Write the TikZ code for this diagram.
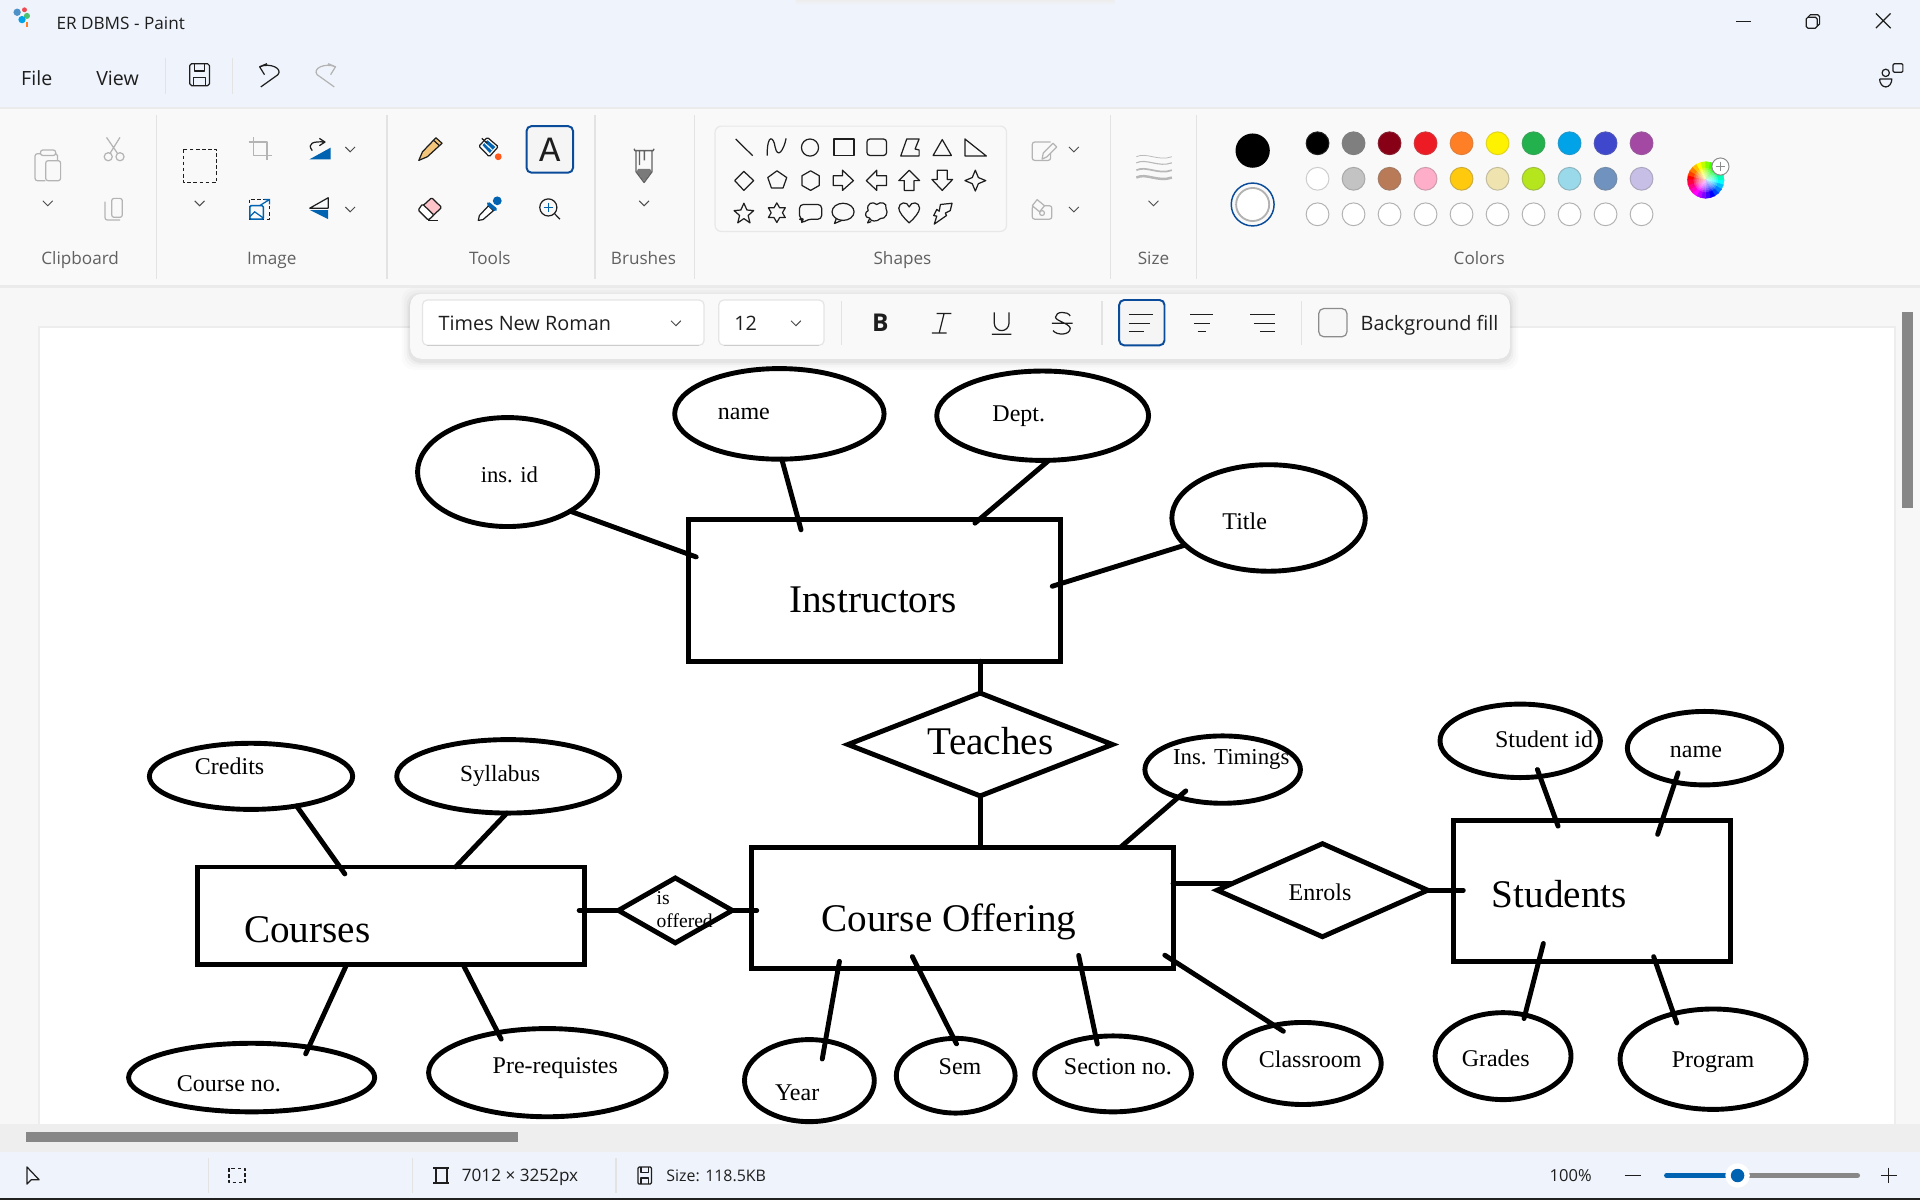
\PassOptionsToPackage{rgb}{xcolor}
\documentclass[tikz,border=0pt]{standalone}
\usepackage{fontspec}
\setmainfont{Liberation Serif}
\newfontfamily\uifont{Open Sans}
\newfontfamily\slabfont{Liberation Mono}
\usetikzlibrary{shapes.geometric}
\definecolor{barbg}{HTML}{EFF3FB}
\definecolor{ribbon}{HTML}{F9F9F9}
\definecolor{accent}{HTML}{0A4B9A}
\definecolor{iconblue}{HTML}{0063B1}
\definecolor{grayicon}{HTML}{B4B4B4}
\definecolor{dark}{HTML}{1E1E1E}
\definecolor{pa0}{HTML}{000000}\definecolor{pa1}{HTML}{7F7F7F}\definecolor{pa2}{HTML}{880015}\definecolor{pa3}{HTML}{ED1C24}\definecolor{pa4}{HTML}{FF7F27}
\definecolor{pa5}{HTML}{FFF200}\definecolor{pa6}{HTML}{22B14C}\definecolor{pa7}{HTML}{00A2E8}\definecolor{pa8}{HTML}{3F48CC}\definecolor{pa9}{HTML}{A349A4}
\definecolor{pb0}{HTML}{FFFFFF}\definecolor{pb1}{HTML}{C3C3C3}\definecolor{pb2}{HTML}{B97A57}\definecolor{pb3}{HTML}{FFAEC9}\definecolor{pb4}{HTML}{FFC90E}
\definecolor{pb5}{HTML}{EFE4B0}\definecolor{pb6}{HTML}{B5E61D}\definecolor{pb7}{HTML}{99D9EA}\definecolor{pb8}{HTML}{7092BE}\definecolor{pb9}{HTML}{C8BFE7}
\tikzset{
  entity/.style={draw=black,line width=4pt,shape=rectangle,inner sep=0,outer sep=0},
  attr/.style={draw=black,line width=4pt,shape=ellipse,inner sep=0,outer sep=0},
  rel/.style={draw=black,line width=4pt,shape=diamond,inner sep=0,outer sep=0},
  conn/.style={draw=black,line width=4pt,line cap=round},
  biglab/.style={inner sep=0,font=\fontsize{32}{36}\selectfont},
  lab/.style={inner sep=0,font=\fontsize{19.6}{22}\selectfont},
  ui/.style={inner sep=0,font=\uifont\fontsize{14}{16}\selectfont,text=dark},
  grouplab/.style={inner sep=0,anchor=base,font=\uifont\fontsize{14}{16}\selectfont,text=black!62},
  sep/.style={draw=black!11,line width=1pt},
  ico/.style={draw=dark,line width=1pt,line join=round},
  gico/.style={draw=grayicon,line width=1pt,line join=round},
  field/.style={draw=black!10,fill=white,line width=1pt,rounded corners=4pt},
  pics/chevron/.style={code={\draw[draw=black!70,line width=.8pt] (-4,-2)--(0,2)--(4,-2);}},
  pics/saveicon/.style={code={
    \draw[ico,rounded corners=1.5pt] (-8,-9) rectangle (8,9);
    \draw[ico] (-4,-9)--(-4,-3)--(4,-3)--(4,-9) (-5,9)--(-5,2)--(5,2)--(5,9);}},
  pics/undoicon/.style={code={
    \draw[ico,draw=#1] (-1,-9)--(-7,-6.5)--(-3,0) (-7,-6.5) .. controls (2,-10) and (12,-5) .. (8,0) -- (-6,10);}},
}
\begin{document}
\begin{tikzpicture}[x=1pt,y=-1pt]
\useasboundingbox (0,0) rectangle (1568,980);
% ---------- window backgrounds
\fill[barbg] (0,0) rectangle (1568,88);
\shade[top color=black!7,bottom color=barbg] (650,0) rectangle (910,4);
\fill[black!8] (0,87) rectangle (1568,89);
\fill[ribbon] (0,89) rectangle (1568,233);
\fill[black!8] (0,233) rectangle (1568,235);
\fill[black!3] (0,235) rectangle (1568,919);
\fill[black!7] (31,266) rectangle (1548,919);
\fill[white] (33,268) rectangle (1547,918);
\fill[black!6.5] (0,918) rectangle (1568,941);
\fill[black!3] (1548,235) rectangle (1568,918);
\fill[black!47] (1553,255) rectangle (1562,415);
\fill[black!47] (21,924.5) rectangle (423,933);
\fill[barbg] (0,941) rectangle (1568,978);
\fill[black!87] (0,978) rectangle (1568,980);

% ---------- diagram: nodes
\node[entity,minimum width=304pt,minimum height=116pt] (instr) at (714,482) {};
\node[entity,minimum width=344pt,minimum height=99pt] (offer) at (786,741.5) {};
\node[entity,minimum width=316pt,minimum height=80pt] (courses) at (319,748) {};
\node[entity,minimum width=226pt,minimum height=115pt] (students) at (1300,727.5) {};
\node[rel,minimum width=216pt,minimum height=84pt,shape aspect=2.57] (teaches) at (800.5,608) {};
\node[rel,minimum width=93pt,minimum height=53pt,shape aspect=1.755] (isoff) at (551.5,743.5) {};
\node[rel,minimum width=172pt,minimum height=76pt,shape aspect=2.263] (enrols) at (1080,727) {};
\node[attr,minimum width=147pt,minimum height=89pt] (insid) at (414.5,385.5) {};
\node[attr,minimum width=171pt,minimum height=74pt] (iname) at (636.5,338) {};
\node[attr,minimum width=173pt,minimum height=73pt] (dept) at (851.5,339.5) {};
\node[attr,minimum width=158pt,minimum height=87pt] (title) at (1036,423) {};
\node[attr,minimum width=127pt,minimum height=55pt] (timings) at (998.5,628.5) {};
\node[attr,minimum width=166pt,minimum height=54pt] (credits) at (205,634) {};
\node[attr,minimum width=182pt,minimum height=60pt] (syllabus) at (415,634) {};
\node[attr,minimum width=201pt,minimum height=56pt] (courseno) at (205.5,880) {};
\node[attr,minimum width=194pt,minimum height=72pt] (prereq) at (447,876) {};
\node[attr,minimum width=106pt,minimum height=67pt] (year) at (661,882.5) {};
\node[attr,minimum width=97pt,minimum height=61pt] (sem) at (780.5,878.5) {};
\node[attr,minimum width=128pt,minimum height=62pt] (section) at (909,877) {};
\node[attr,minimum width=128pt,minimum height=67pt] (classroom) at (1064,868.5) {};
\node[attr,minimum width=131pt,minimum height=60pt] (studid) at (1241.5,605) {};
\node[attr,minimum width=126pt,minimum height=60pt] (sname) at (1392,611) {};
\node[attr,minimum width=111pt,minimum height=71pt] (grades) at (1227.5,862.5) {};
\node[attr,minimum width=152pt,minimum height=82pt] (program) at (1399,865) {};
% ---------- diagram: texts
\node[biglab] (tinstr) at (713,490) {Instructors};
\node[biglab] (toffer) at (775,753) {Course Offering};
\node[biglab] (tcourses) at (251,759) {Courses};
\node[biglab] (tstudents) at (1273.5,730) {Students};
\node[biglab] (tteaches) at (809,605) {Teaches};
\node[lab] (tenrols) at (1078,729) {Enrols};
\node[inner sep=0,align=left,anchor=west,font=\fontsize{16}{19}\selectfont] (tisoff) at (536,743) {is\\offered};
\node[lab,font=\fontsize{18.5}{22}\selectfont] (tinsid) at (416,388) {ins. id};
\node[lab] (tiname) at (607.5,338) {name};
\node[lab] (tdept) at (832,340) {Dept.};
\node[lab] (ttitle) at (1016.5,426) {Title};
\node[lab,font=\fontsize{18.6}{22}\selectfont] (ttimings) at (1005.5,620.5) {Ins. Timings};
\node[lab] (tcredits) at (187.5,626) {Credits};
\node[lab,font=\fontsize{19}{22}\selectfont] (tsyllabus) at (408.5,633.5) {Syllabus};
\node[lab] (tcourseno) at (187,885) {Course no.};
\node[lab] (tprereq) at (453.5,872) {Pre-requistes};
\node[lab] (tyear) at (651,892) {Year};
\node[lab] (tsem) at (784,871) {Sem};
\node[lab] (tsection) at (913,871) {Section no.};
\node[lab] (tclassroom) at (1070,865) {Classroom};
\node[lab] (tstudid) at (1261,604) {Student id};
\node[lab] (tsname) at (1385,614) {name};
\node[lab] (tgrades) at (1221.5,864) {Grades};
\node[lab] (tprogram) at (1399,867.5) {Program};
% ---------- diagram: connectors
\draw[conn,shorten >=-7pt] (insid.-32) -- (instr.169.8);
\draw[conn,shorten >=-9pt] (iname.-87.5) -- (instr.137.4);
\draw[conn,shorten >=-5pt] (dept.-82.6) -- (instr.34.1);
\draw[conn,shorten >=-7pt] (title.198.4) -- (instr.2.4);
\draw[conn] (teaches.north |- instr.south) -- (teaches.north);
\draw[conn] (teaches.south) -- (teaches.south |- offer.north);
\draw[conn,shorten <=-8pt] (timings.212.3) -- (offer.21.4);
\draw[conn,shorten >=-4pt] (isoff.west) -- (isoff.west -| courses.east);
\draw[conn,shorten >=-4pt] (isoff.east) -- (isoff.east -| offer.west);
\draw[conn] (enrols.176.2) -- (enrols.176.2 -| offer.east);
\draw[conn,shorten >=-8pt] (enrols.east) -- (enrols.east -| students.west);
\draw[conn,shorten <=-6pt,shorten >=-5pt] (studid.-61.9) -- (students.117.6);
\draw[conn,shorten <=-8pt,shorten >=-12pt] (sname.229.6) -- (students.45.1);
\draw[conn,shorten <=-3pt,shorten >=-15pt] (grades.62.4) -- (students.233.6);
\draw[conn,shorten <=-8pt,shorten >=-4pt] (program.131) -- (students.-48.2);
\draw[conn,shorten >=-7pt] (credits.-33.2) -- (courses.136.9);
\draw[conn] (syllabus.-92) -- (courses.37.6);
\draw[conn,shorten <=-6pt] (courseno.28.4) -- (courses.228);
\draw[conn,shorten <=-6pt] (prereq.141.8) -- (courses.-34.6);
\draw[conn,shorten <=-15pt,shorten >=-6pt] (year.68.7) -- (offer.206.5);
\draw[conn,shorten <=-5pt,shorten >=-11pt] (sem.93.8) -- (offer.234.7);
\draw[conn,shorten <=-6pt,shorten >=-11pt] (section.115.5) -- (offer.-27.2);
\draw[conn,shorten <=-9pt,shorten >=-8pt] (classroom.127.7) -- (offer.-14.5);

% ---------- title bar
\begin{scope}[shift={(19,13)}]
  \fill[iconblue!70!white] (-5,-3) circle (3);
  \fill[pa3!80!white] (1,-5) circle (2);
  \fill[pa6!80!white] (3,0) circle (2.5);
  \fill[pa7] (-1,3) circle (3);
  \fill[pa4] (2,5) rectangle (4,9);
\end{scope}
\node[ui,anchor=west] (wtitle) at (46,19) {ER DBMS - Paint};
\draw[ico,line width=1.1pt] (1418,17.5) -- (1430,17.5);
\draw[ico,rounded corners=1.5pt] (1475,14) rectangle (1484,23);
\draw[ico,rounded corners=1.5pt] (1477,14) -- (1477,12) -- (1486,12) -- (1486,21) -- (1484,21);
\draw[ico] (1532,11) -- (1544,23) (1544,11) -- (1532,23);
\node[ui,font=\uifont\fontsize{16}{18}\selectfont,anchor=center] (mfile) at (30,64) {File};
\node[ui,font=\uifont\fontsize{16}{18}\selectfont,anchor=center] (mview) at (96,64) {View};
\draw[sep] (135,47) -- (135,77) (190,47) -- (190,77);
\pic at (163,61) {saveicon};
\pic at (219,61) {undoicon=dark};
\pic[xscale=-1] at (267,61) {undoicon=grayicon};
\begin{scope}[shift={(1543,61)}]
  \draw[ico] (-3,-1.5) circle (3);
  \draw[ico] (-8,3.5) -- (2,3.5) arc[start angle=0,end angle=180,x radius=5,y radius=6.5];
  \draw[ico,rounded corners=1pt] (3,-9) rectangle (11,-2);
\end{scope}

% ---------- ribbon: separators and labels
\draw[sep] (128,94) -- (128,228) (316,94) -- (316,228) (486,94) -- (486,228) (567,94) -- (567,228) (907,94) -- (907,228) (977,94) -- (977,228);
\node[grouplab] (gclip) at (65.5,216) {Clipboard};
\node[grouplab] (gimage) at (222,216) {Image};
\node[grouplab] (gtools) at (400,216) {Tools};
\node[grouplab] (gbrush) at (525.5,216) {Brushes};
\node[grouplab] (gshapes) at (737,216) {Shapes};
\node[grouplab] (gsize) at (942,216) {Size};
\node[grouplab] (gcolors) at (1208,216) {Colors};
% clipboard group
\draw[gico,rounded corners=2pt] (37,147.6) -- (28.6,147.6) -- (28.6,125.5) -- (33,125.5);
\draw[gico,rounded corners=1.5pt] (45.5,125.5) -- (47,125.5) -- (47,131.2);
\draw[gico,rounded corners=2pt] (37.3,131.2) rectangle (49.5,147.6);
\draw[gico,rounded corners=2pt] (33,122.5) rectangle (45.5,127);
\pic at (39,166) {chevron};
\draw[gico] (87,112.2) -- (96,125.3) (98,112.2) -- (89.8,125.3) (88.4,128) circle (3.3) (98,128) circle (3.3);
\draw[gico,rounded corners=2pt] (91.2,162) rectangle (99.9,177.5);
\draw[gico,rounded corners=2pt] (85.7,164.7) -- (85.7,179.7) -- (98,179.7);
% image group
\draw[ico,dashed,dash pattern=on 3pt off 2pt] (150,122) rectangle (177,149);
\pic at (163,166) {chevron};
\draw[gico] (207,112) -- (207,127) -- (222,127) (203,116) -- (218,116) -- (218,131);
\fill[iconblue] (252.6,130.2) -- (270,130.2) -- (270,120.6) -- cycle;
\draw[ico] (260.8,113) -- (265.4,116) -- (260.8,119) (265.4,116) .. controls (255.9,115.2) and (250.4,117) .. (255,123);
\pic at (286,122) {chevron};
\draw[ico,dashed,dash pattern=on 3pt off 2pt] (204,163) rectangle (220,179);
\draw[draw=iconblue,line width=1.2pt,rounded corners=1pt,fill=ribbon] (204,168) rectangle (215,179);
\draw[draw=iconblue,line width=1pt] (204,177) -- (208,173) -- (215,178) (212,168) -- (220,163) (216,163) -- (220,163) -- (220,167);
\draw[ico] (268,161.5) -- (253,170) -- (268,170) -- cycle;
\fill[iconblue] (253,171.5) -- (268,171.5) -- (268,179) -- cycle;
\pic at (286,171) {chevron};
% tools group
\draw[ico,fill=pb5!70!orange] (342,131) -- (345,124) -- (356,112.5) -- (361,117) -- (349,128) -- cycle;
\draw[ico] (354,114.5) -- (359,119);
\draw[ico,fill=white,rounded corners=1pt] (391.1,119.3) -- (398,112.2) -- (406.9,119.8) -- (399.6,128) -- cycle;
\fill[iconblue] (394,118.5) -- (398,114.5) -- (404.5,120) -- (400,125) -- cycle;
\draw[draw=white,line width=.9pt] (396,116.8) -- (402.2,122.8);
\fill[pa4!70!red] (406.9,128) circle (2.8);
\draw[ico] (393.5,113) -- (398,117);
\draw[draw=accent,line width=1.6pt,fill=black!4,rounded corners=4pt] (430,103) rectangle (468,141);
\node[ui,font=\slabfont\fontsize{29}{30}\selectfont] (atool) at (449,122) {A};
\draw[ico,fill=pb3!50!red!35!white,rounded corners=1pt] (341.6,171.5) -- (352.5,161.5) -- (360.7,169.4) -- (349.8,179.7) -- cycle;
\draw[ico,fill=white,rounded corners=1pt] (341.6,171.5) -- (345,166.6) -- (354.4,175.6) -- (349.8,179.7) -- cycle;
\draw[ico] (349.8,180) -- (358,180);
\fill[iconblue] (406.1,164) circle (3.6);
\draw[ico,fill=white] (390.6,180) -- (391.5,176) -- (399,168) -- (403,172) -- (394.5,179.3) -- cycle;
\draw[draw=iconblue,line width=3pt,line cap=round] (399,166.5) -- (404.5,171);
\draw[ico] (447.8,169.4) circle (7) (452.8,174.4) -- (457.3,179);
\draw[draw=iconblue,line width=1pt] (444,169.4) -- (451.6,169.4) (447.8,165.6) -- (447.8,173.2);
% brushes
\fill[black!52] (521,138) -- (531,138) -- (532,140.2) -- (526,148) -- (520,140.2) -- cycle;
\draw[draw=black!62,line width=1.1pt,line join=round] (517.8,121.5) -- (518.5,123) -- (533.5,123) -- (534.1,121.5) (519.4,123) -- (519.4,140.2) -- (526,149) -- (532.5,140.2) -- (532.5,123) (522.2,123) -- (522.2,134.8) (526.2,123) -- (526.2,131);
\pic at (526,166) {chevron};
% shapes panel
\draw[draw=black!9,line width=1pt,rounded corners=5pt] (584,103) rectangle (822,189);
\begin{scope}[ico]
  \draw (600.8,113.5) -- (614.7,127.2);
  \draw (626.5,127) .. controls (626.5,108) and (632,112) .. (633,120) .. controls (635,130) and (640,123) .. (642,113);
  \draw (661.5,120.5) circle (7);
  \draw (681,113.5) rectangle (697.5,127);
  \draw[rounded corners=2.5pt] (708,113.5) rectangle (724,127);
  \draw (735.6,127.4) -- (740.5,113.5) -- (750.6,113.5) -- (747.3,121.7) -- (750.6,122.5) -- (750.6,127.4) -- cycle;
  \draw (762,127) -- (769.5,114) -- (777,127) -- cycle;
  \draw (788,113.5) -- (805.5,127.4) -- (788,127.4) -- cycle;
  \draw (607.5,140) -- (615.5,147.5) -- (607.5,155.5) -- (600,147.5) -- cycle;
  \draw (634.5,139.5) -- (642.5,145) -- (639.5,153.5) -- (630,153.5) -- (627,145) -- cycle;
  \draw (662,139.5) -- (669,143.5) -- (669,151.5) -- (662,155.5) -- (655,151.5) -- (655,143.5) -- cycle;
  \draw (680.5,143.5) -- (688,143.5) -- (688,139) -- (697,147.5) -- (688,155.5) -- (688,151.5) -- (680.5,151.5) -- cycle;
  \draw (724,143.5) -- (716,143.5) -- (716,139) -- (707.5,147.5) -- (716,155.5) -- (716,151.5) -- (724,151.5) -- cycle;
  \draw (746.5,155.5) -- (746.5,147.5) -- (751,147.5) -- (742.5,139) -- (734,147.5) -- (738.5,147.5) -- (738.5,155.5) -- cycle;
  \draw (765.5,139) -- (765.5,146.5) -- (761,146.5) -- (769.5,155.5) -- (778,146.5) -- (773.5,146.5) -- (773.5,139) -- cycle;
  \draw (796.5,139) -- (799,145) -- (805,147.5) -- (799,150) -- (796.5,156) -- (794,150) -- (788,147.5) -- (794,145) -- cycle;
  \draw (607.5,166) -- (610,171.5) -- (615.5,172) -- (611,176) -- (612.5,182) -- (607.5,178.5) -- (602.5,182) -- (604,176) -- (599.5,172) -- (605,171.5) -- cycle;
  \draw (634.4,165.7) -- (636.7,169.7) -- (641.3,169.7) -- (639,173.7) -- (641.3,177.7) -- (636.7,177.7) -- (634.4,181.7) -- (632.1,177.7) -- (627.5,177.7) -- (629.8,173.7) -- (627.5,169.7) -- (632.1,169.7) -- cycle;
  \draw[rounded corners=3pt] (653,167) -- (671,167) -- (671,179) -- (660,179) -- (654.5,182.5) -- (656,179) -- (653,179) -- cycle;
  \draw (688.5,173) ellipse[x radius=9,y radius=7];
  \draw (683,178.5) -- (681.5,182.5) -- (687.5,180);
  \draw (709,172) .. controls (707,166) and (713,164) .. (716,167) .. controls (719,164) and (725,166) .. (723.5,170) .. controls (726,174) and (723,179) .. (719,178.5) .. controls (716,181.5) and (711,181) .. (710,178) .. controls (706,178) and (706,173) .. (709,172) -- cycle;
  \draw (710,179) -- (708.5,182) -- (711.5,181);
  \draw (742.5,182) .. controls (738,178) and (734,173) .. (734,170) .. controls (734,165) and (741,164) .. (742.5,169) .. controls (744,164) and (751,165) .. (751,170) .. controls (751,173) and (747,178) .. (742.5,182) -- cycle;
  \draw (768,167) -- (777.5,166) -- (776,172) -- (772,174) -- (773,176) -- (763,183) -- (765,176.5) -- (762.5,176) -- (765,171) -- (767,172.5) -- cycle;
\end{scope}
% outline and fill
\draw[gico,rounded corners=2pt] (858,116) -- (843,116) -- (843,131) -- (858,131) -- (858,124);
\draw[gico,fill=ribbon] (851,130) -- (852,125) -- (860,117) -- (863,120) -- (855,128) -- cycle;
\pic at (877,122) {chevron};
\draw[gico,rounded corners=2pt] (843,168) rectangle (859,179);
\draw[gico,fill=ribbon] (843,168) -- (847,163) -- (853,168) -- (849,173) -- cycle;
\draw[gico] (851,174) circle (2);
\pic at (877,171) {chevron};
% size
\foreach \yy/\ww in {127/.6,132/.9,138/1.4,144/2}{
  \draw[draw=black!28,line width=\ww pt] (928,\yy+1) .. controls (936,\yy-3) and (946,\yy+5) .. (957,\yy+1);
}
\pic at (942,166) {chevron};
% colors
\fill[black] (1023,123) circle (14);
\draw[draw=accent,line width=1.2pt] (1023,167) circle (17.5);
\draw[draw=black!30,line width=1.5pt,fill=white] (1023,167) circle (13.5);
\foreach \i in {0,...,9}{
  \pgfmathsetmacro{\px}{1076+29.4*\i}
  \draw[fill=pa\i,draw=pa\i!75!gray,line width=.8pt] (\px,117) circle (9.3);
  \draw[fill=pb\i,draw=pb\i!60!gray,line width=.8pt] (\px,146) circle (9.3);
  \draw[fill=white,draw=black!30,line width=.8pt] (\px,175) circle (9.3);
}
\begin{scope}[shift={(1393,147)}]
  \foreach \h in {0,15,...,345}{
    \pgfmathsetmacro{\tta}{\h-180}
    \definecolor{wheelc}{Hsb}{\h,1,1}
    \fill[wheelc,draw=wheelc,line width=.2pt] (0,0) -- (\tta:15) arc[start angle=\tta,delta angle=16,radius=15] -- cycle;
  }
  \foreach \r in {10,8.5,7,5.5,4,2.5,1}{\fill[white,opacity=.2] (0,0) circle (\r);}
  \draw[draw=black!45,line width=.8pt,fill=white] (12,-11) circle (7);
  \draw[draw=black!45,line width=1pt] (8,-11) -- (16,-11) (12,-15) -- (12,-7);
\end{scope}

% ---------- floating text toolbar
\foreach \d/\o in {7/.015,5/.02,3/.03,1.5/.04}{
  \fill[black,opacity=\o,rounded corners=10pt] (335-\d,240-\d+2) rectangle (1233+\d,293+\d+2);
}
\fill[ribbon,rounded corners=9pt] (335,240) rectangle (1233,293);
\draw[field] (345,245) rectangle (575,282);
\draw[draw=black!20,line width=1pt] (349,282) -- (571,282);
\node[ui,anchor=base west,font=\uifont\fontsize{16.2}{18}\selectfont] (fontname) at (358,270) {Times New Roman};
\pic at (552,264) {chevron};
\draw[field] (587,245) rectangle (673,282);
\draw[draw=black!20,line width=1pt] (591,282) -- (669,282);
\node[ui,anchor=base,font=\uifont\fontsize{16.2}{18}\selectfont] (fontsize) at (609,270) {12};
\pic at (650,264) {chevron};
\draw[sep] (687,246) -- (687,282) (900,246) -- (900,282) (1063,246) -- (1063,282);
\node[ui,anchor=base,font=\uifont\bfseries\fontsize{20}{22}\selectfont] (boldb) at (719,271) {B};
\draw[ico] (765,256) -- (777,256) (761,272) -- (773,272) (771,256) -- (767,272);
\draw[ico] (812,255) -- (812,264) arc[start angle=180,end angle=0,x radius=6,y radius=6] -- (824,255) (810,273) -- (826,273);
\draw[ico] (859,264) -- (876,264) (874,258) .. controls (872,254) and (862,254) .. (862,259) .. controls (862,262) and (873,264) .. (874,268) .. controls (874,274) and (863,274) .. (860,270);
\draw[draw=accent,line width=1.6pt,fill=black!4,rounded corners=4pt] (914,245) rectangle (951,282);
\draw[ico] (922,257) -- (942,257) (922,264) -- (939,264) (922,271) -- (934,271);
\draw[ico] (972,257) -- (991,257) (975,264) -- (988,264) (978,271) -- (985,271);
\draw[ico] (1021,257) -- (1041,257) (1024,264) -- (1041,264) (1029,271) -- (1041,271);
\draw[draw=black!45,line width=1pt,fill=black!3,rounded corners=4pt] (1077,252) rectangle (1100,275);
\node[ui,anchor=base west,font=\uifont\fontsize{16.2}{18}\selectfont] (bgfill) at (1111,269.5) {Background fill};

% ---------- status bar
\draw[ico] (22,953) -- (22,967) -- (25.5,963.5) -- (32,963.5) -- cycle;
\draw[sep] (170,946) -- (170,974) (337,946) -- (337,974) (503,946) -- (503,974);
\draw[ico,dashed,dash pattern=on 3pt off 2pt] (187,954) rectangle (200,966);
\draw[ico] (356,954) rectangle (365,966);
\draw[ico,line width=1.5pt] (354,954) -- (367,954) (354,966) -- (367,966);
\node[ui,anchor=base west,font=\uifont\fontsize{14}{15}\selectfont] (dims) at (377,965) {7012 × 3252px};
\draw[ico,rounded corners=1pt] (521,953) rectangle (532,967);
\draw[ico] (523.5,953) -- (523.5,957.5) -- (529.5,957.5) -- (529.5,953) (523.5,967) -- (523.5,962) -- (529.5,962) -- (529.5,967);
\node[ui,anchor=base west,font=\uifont\fontsize{13}{15}\selectfont] (fsize) at (544,965) {Size: 118.5KB};
\node[ui,anchor=base east,font=\uifont\fontsize{13.5}{15}\selectfont] (zoompct) at (1300,965) {100\%};
\draw[ico] (1327,960) -- (1340,960) (1536,960) -- (1549,960) (1542.5,953.5) -- (1542.5,966.5);
\draw[draw=black!47,line width=4pt,line cap=round] (1419,960) -- (1517,960);
\draw[draw=iconblue,line width=4pt,line cap=round] (1361,960) -- (1419,960);
\fill[white] (1419,960) circle (10);
\fill[iconblue] (1419,960) circle (5.5);
\end{tikzpicture}
\end{document}
